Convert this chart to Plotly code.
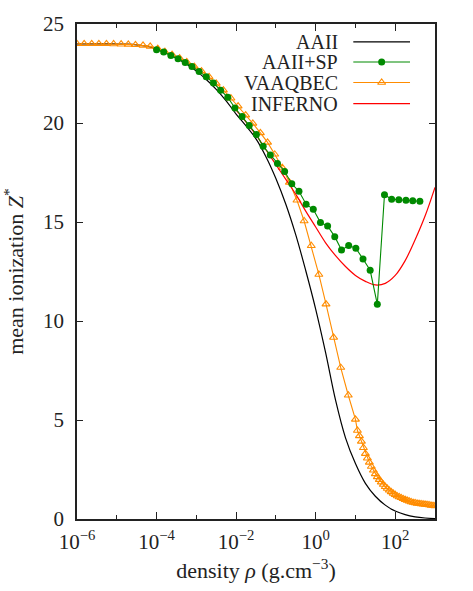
import plotly.graph_objects as go

# ---------------- data (log10 of density in g/cm^3, mean ionization Z*) ----------------
aaii_logrho = [-6.0, -5.75, -5.5, -5.25, -5.0, -4.75, -4.5, -4.25, -4.0, -3.75, -3.5, -3.25,
               -3.0, -2.75, -2.5, -2.25, -2.0, -1.75, -1.5, -1.25, -1.0, -0.75, -0.5, -0.25,
               0.0, 0.25, 0.5, 0.75, 1.0, 1.25, 1.5, 1.75, 2.0, 2.25, 2.5, 2.75, 3.0]
aaii_z = [24.0, 24.0, 24.0, 24.0, 23.99, 23.98, 23.95, 23.88, 23.74, 23.52, 23.27, 22.98,
          22.62, 22.2, 21.7, 21.12, 20.45, 19.85, 19.2, 18.3, 17.2, 15.9, 14.35, 12.55,
          10.6, 8.4, 6.0, 4.1, 2.8, 1.8, 1.15, 0.7, 0.4, 0.22, 0.11, 0.05, 0.02]

sp_logrho = [-4.00, -3.82, -3.64, -3.46, -3.28, -3.11, -2.93, -2.75, -2.57, -2.39, -2.21,
             -2.03, -1.85, -1.67, -1.49, -1.32, -1.14, -0.96, -0.78, -0.60, -0.42, -0.24,
             -0.06, 0.12, 0.30, 0.48, 0.65, 0.83, 1.01, 1.19, 1.37, 1.55, 1.73, 1.91, 2.09,
             2.27, 2.44, 2.62]
sp_z = [23.7, 23.58, 23.41, 23.24, 23.06, 22.85, 22.6, 22.34, 22.02, 21.66, 21.3, 20.76,
        20.33, 19.88, 19.42, 18.82, 18.39, 17.95, 17.55, 16.93, 16.55, 15.9, 15.64, 14.97,
        14.8, 14.26, 13.59, 13.81, 13.68, 13.13, 12.56, 10.84, 16.38, 16.15, 16.13, 16.1,
        16.07, 16.05]

vaaq_logrho = [-6.00, -5.82, -5.63, -5.45, -5.26, -5.08, -4.89, -4.71, -4.53, -4.34, -4.16,
               -3.97, -3.79, -3.61, -3.42, -3.24, -3.05, -2.87, -2.68, -2.50, -2.32, -2.13,
               -1.95, -1.76, -1.58, -1.39, -1.21, -1.03, -0.84, -0.66, -0.47, -0.29, -0.11,
               0.08, 0.26, 0.45, 0.63, 0.82, 1.00,
               1.05, 1.10, 1.15, 1.20, 1.25, 1.30, 1.35, 1.40, 1.45, 1.50,
               1.55, 1.60, 1.65, 1.70, 1.75, 1.80, 1.85, 1.90, 1.95, 2.00,
               2.05, 2.10, 2.15, 2.20, 2.25, 2.30, 2.35, 2.40, 2.45, 2.50,
               2.55, 2.60, 2.65, 2.70, 2.75, 2.80, 2.85, 2.90, 2.95, 3.00]
vaaq_z = [24.0, 24.0, 24.0, 24.0, 24.0, 23.99, 23.98, 23.97, 23.95, 23.92, 23.87,
          23.76, 23.6, 23.45, 23.28, 23.08, 22.85, 22.62, 22.33, 22.0, 21.66, 21.25,
          20.85, 20.4, 19.98, 19.5, 19.02, 18.42, 17.75, 17.0, 16.1, 15.05, 13.8,
          12.35, 10.85, 9.17, 7.65, 6.25, 5.03,
          4.47, 4.2, 3.92, 3.6, 3.3, 3.07, 2.86, 2.65, 2.46, 2.28,
          2.13, 1.99, 1.86, 1.74, 1.63, 1.54, 1.45, 1.37, 1.29, 1.23,
          1.16, 1.11, 1.07, 1.02, 0.98, 0.94, 0.9, 0.86, 0.83, 0.81,
          0.79, 0.78, 0.76, 0.75, 0.74, 0.72, 0.71, 0.69, 0.68, 0.66]

inferno_logrho = [-2.0, -1.75, -1.5, -1.25, -1.0, -0.75, -0.5, -0.25, 0.0, 0.25, 0.5,
                  0.75, 1.0, 1.25, 1.5, 1.75, 2.0, 2.25, 2.5, 2.75, 3.0]
inferno_z = [20.65, 20.05, 19.4, 18.65, 17.9, 17.15, 16.4, 15.55, 14.75, 13.95, 13.3,
             12.75, 12.3, 12.0, 11.82, 11.9, 12.3, 13.05, 14.1, 15.3, 16.75]

x_tickvals = [1e-6, 1e-4, 1e-2, 1, 1e2]
x_ticktext = ["10<sup>−6</sup>", "10<sup>−4</sup>", "10<sup>−2</sup>", "10<sup>0</sup>", "10<sup>2</sup>"]
x_minorvals = [1e-5, 1e-3, 1e-1, 10, 1e3]
y_tickvals = [0, 5, 10, 15, 20, 25]

names = ["AAII", "AAII+SP", "VAAQBEC", "INFERNO"]
colors = ["#000000", "#008a00", "#ff8c00", "#ff0000"]

FONT = "Liberation Serif, Times New Roman, serif"

def p10(v):
    return [10 ** e for e in v]

fig = go.Figure()
fig.add_trace(go.Scatter(x=p10(aaii_logrho), y=aaii_z, mode="lines", line=dict(color=colors[0], width=1.2, shape="spline"), showlegend=False))
fig.add_trace(go.Scatter(x=p10(vaaq_logrho), y=vaaq_z, mode="lines+markers",
                         line=dict(color=colors[2], width=1.1),
                         marker=dict(symbol="triangle-up-open", size=7, color=colors[2], line=dict(width=1.1)),
                         showlegend=False))
fig.add_trace(go.Scatter(x=p10(inferno_logrho), y=inferno_z, mode="lines", line=dict(color=colors[3], width=1.2, shape="spline"), showlegend=False))
fig.add_trace(go.Scatter(x=p10(sp_logrho), y=sp_z, mode="lines+markers",
                         line=dict(color=colors[1], width=1.1),
                         marker=dict(symbol="circle", size=7, color=colors[1]),
                         showlegend=False))

# custom legend (text right-aligned, sample on the right) on an overlay axis in [0,1]
rows = [0.9639, 0.9232, 0.8818, 0.8391]
lx0, lx1, lxm, tx = 0.7718, 0.9302, 0.851, 0.7346
for i, (nm, c) in enumerate(zip(names, colors)):
    fig.add_trace(go.Scatter(x=[lx0, lx1], y=[rows[i], rows[i]], xaxis="x2", yaxis="y2", mode="lines",
                             line=dict(color=c, width=1.2), showlegend=False, hoverinfo="skip"))
    if nm == "AAII+SP":
        fig.add_trace(go.Scatter(x=[lxm], y=[rows[i]], xaxis="x2", yaxis="y2", mode="markers",
                                 marker=dict(symbol="circle", size=7, color=c), showlegend=False, hoverinfo="skip"))
    if nm == "VAAQBEC":
        fig.add_trace(go.Scatter(x=[lxm], y=[rows[i]], xaxis="x2", yaxis="y2", mode="markers",
                                 marker=dict(symbol="triangle-up-open", size=7, color=c, line=dict(width=1.1)),
                                 showlegend=False, hoverinfo="skip"))
    fig.add_annotation(text=nm, xref="paper", yref="paper", x=tx, y=rows[i], xanchor="right", yanchor="middle",
                       showarrow=False, font=dict(family=FONT, size=20, color="#222"))

axis_common = dict(showgrid=False, zeroline=False, showline=True, linecolor="#222", linewidth=1.6,
                   mirror="ticks", ticks="inside", tickcolor="#222", tickwidth=1.2,
                   tickfont=dict(family=FONT, size=21, color="#222"))

fig.update_layout(
    width=473, height=591,
    margin=dict(l=77, r=38, t=24, b=68),
    plot_bgcolor="white", paper_bgcolor="white",
    showlegend=False,
    xaxis=dict(type="log", range=[-6, 3], tickvals=x_tickvals, ticktext=x_ticktext, ticklen=7,
               minor=dict(tickvals=x_minorvals, ticks="inside", ticklen=4, tickcolor="#222", tickwidth=1.2),
               ticklabelstandoff=3,
               title=dict(text="density <i>ρ</i> (g.cm<sup>−3</sup>)", font=dict(family=FONT, size=22, color="#222"), standoff=10),
               **axis_common),
    yaxis=dict(range=[0, 25], tickvals=y_tickvals, ticklen=6, ticklabelstandoff=7,
               title=dict(text="mean ionization <i>Z</i><sup>*</sup>", font=dict(family=FONT, size=22, color="#222"), standoff=14),
               **axis_common),
    xaxis2=dict(domain=[0, 1], range=[0, 1], overlaying="x", visible=False, anchor="y2"),
    yaxis2=dict(range=[0, 1], overlaying="y", visible=False, anchor="x2"),
)

fig.write_html("out.html")
